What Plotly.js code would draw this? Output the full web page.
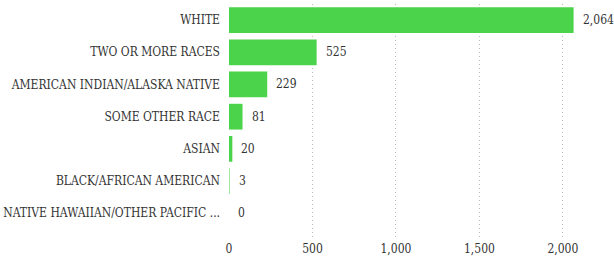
<!DOCTYPE html>
<html><head><meta charset="utf-8">
<script src="https://cdn.plot.ly/plotly-3.0.1.min.js"></script>
<style>body{margin:0;padding:0;background:#fff}#chart{width:614px;height:259px}</style>
</head><body><div id="chart"></div>
<script>
const categories = ["WHITE","TWO OR MORE RACES","AMERICAN INDIAN/ALASKA NATIVE","SOME OTHER RACE","ASIAN","BLACK/AFRICAN AMERICAN","NATIVE HAWAIIAN/OTHER PACIFIC ..."];
const values = [2064, 525, 229, 81, 20, 3, 0];
const xTickVals = [0, 500, 1000, 1500, 2000];
const xTickText = ["0", "500", "1,000", "1,500", "2,000"];

const fontFam = "DejaVu Serif Condensed";
const trace = {
  type: 'bar', orientation: 'h',
  x: values, y: categories,
  marker: {color: '#4cd34c'},
  textposition: 'none',
  hoverinfo: 'skip',
  width: 0.8
};
const annotations = values.map((v, i) => ({
  x: v, y: categories[i], xref: 'x', yref: 'y',
  text: v.toLocaleString('en-US'), showarrow: false,
  xanchor: 'left', xshift: 7,
  font: {family: fontFam, size: 12, color: '#333'}
}));
const layout = {
  width: 614, height: 259,
  margin: {l: 229, r: 1, t: 4, b: 19},
  paper_bgcolor: '#fff', plot_bgcolor: '#fff',
  showlegend: false,
  font: {family: fontFam, size: 12, color: '#333'},
  xaxis: {
    range: [0, 2300], tickvals: xTickVals, ticktext: xTickText,
    showgrid: true, gridcolor: '#bbb', griddash: '1px,3px', gridwidth: 1,
    zeroline: false, showline: false, ticks: '', fixedrange: true
  },
  yaxis: {
    type: 'category', categoryorder: 'array', categoryarray: categories,
    range: [6.83, -0.5], showgrid: false, zeroline: false, ticks: '',
    ticklabelstandoff: 8, automargin: false
  },
  annotations: annotations
};
Plotly.newPlot('chart', [trace], layout, {staticPlot: true, displayModeBar: false});
</script></body></html>
